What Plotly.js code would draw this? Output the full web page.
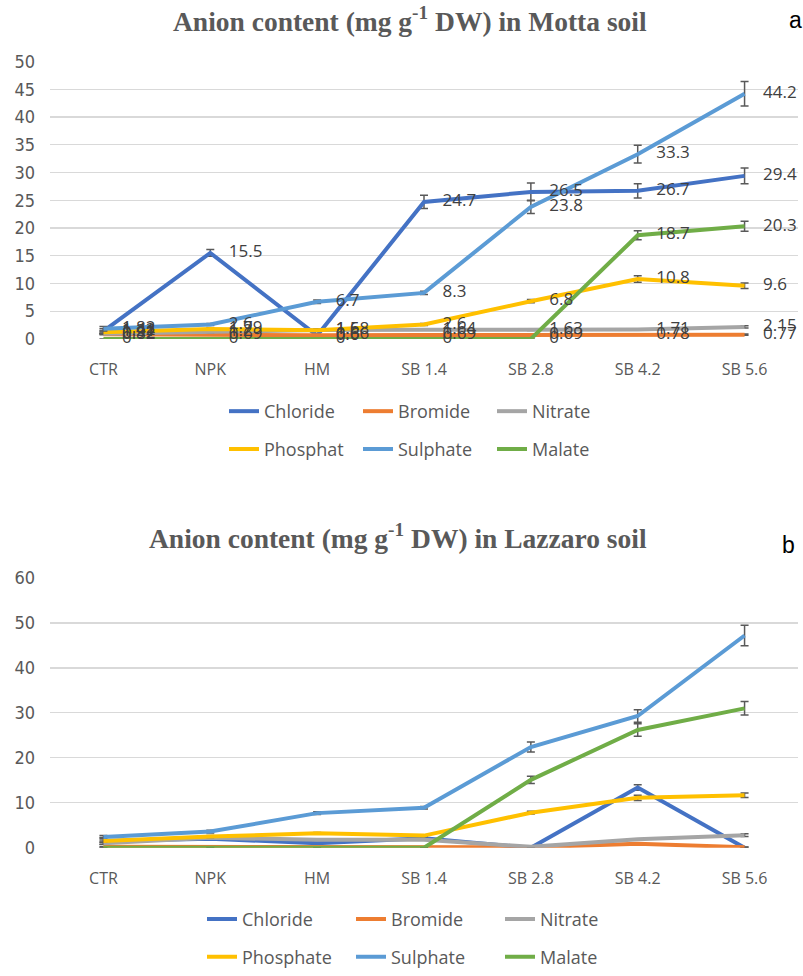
<!DOCTYPE html>
<html>
<head>
<meta charset="utf-8">
<script src="https://cdn.plot.ly/plotly-3.0.1.min.js"></script>
<style>
  html, body { margin: 0; padding: 0; background: #ffffff; }
  #chart { width: 803px; height: 976px; }
</style>
</head>
<body>
<div id="chart"></div>
<script>
// Treatments on the category axis
const treatments = ['CTR', 'NPK', 'HM', 'SB 1.4', 'SB 2.8', 'SB 4.2', 'SB 5.6'];

// Motta soil: anion content (mg g-1 DW) and standard errors
const mottaChloride  = [1.42, 15.5, 0.6, 24.7, 26.5, 26.7, 29.4];
const mottaBromide   = [0.82, 0.69, 0.66, 0.69, 0.69, 0.78, 0.77];
const mottaNitrate   = [0.92, 1.2, 1.6, 1.64, 1.63, 1.71, 2.15];
const mottaPhosphat  = [1.21, 1.79, 1.58, 2.6, 6.8, 10.8, 9.6];
const mottaSulphate  = [1.82, 2.6, 6.7, 8.3, 23.8, 33.3, 44.2];
const mottaMalate    = [0, 0, 0, 0, 0, 18.7, 20.3];

const mottaChlorideErr  = [0.4, 0.6, 0.2, 1.2, 1.6, 1.3, 1.4];
const mottaBromideErr   = [0.05, 0.05, 0.05, 0.05, 0.05, 0.1, 0.1];
const mottaNitrateErr   = [0.1, 0.1, 0.1, 0.1, 0.1, 0.1, 0.2];
const mottaPhosphatErr  = [0.2, 0.2, 0.2, 0.2, 0.3, 0.6, 0.5];
const mottaSulphateErr  = [0.4, 0.2, 0.3, 0.3, 1.2, 1.6, 2.2];
const mottaMalateErr    = [0, 0, 0, 0, 0, 0.8, 0.9];

// Lazzaro soil: anion content (mg g-1 DW) and standard errors
const lazzaroChloride  = [1.5, 2.0, 1.0, 2.1, 0, 13.4, 0];
const lazzaroBromide   = [0.2, 0.2, 0.2, 0.1, 0.1, 0.9, 0.1];
const lazzaroNitrate   = [1.0, 2.2, 1.8, 1.8, 0.2, 1.9, 2.8];
const lazzaroPhosphate = [1.5, 2.5, 3.2, 2.7, 7.8, 11.1, 11.7];
const lazzaroSulphate  = [2.4, 3.6, 7.7, 8.9, 22.4, 29.3, 47.2];
const lazzaroMalate    = [0, 0, 0, 0, 15.1, 26.2, 31.0];

const lazzaroChlorideErr  = [0.8, 0.2, 0.2, 0.2, 0.1, 0.6, 0.1];
const lazzaroBromideErr   = [0.05, 0.05, 0.05, 0.05, 0.05, 0.1, 0.05];
const lazzaroNitrateErr   = [0.2, 0.1, 0.1, 0.1, 0.1, 0.1, 0.3];
const lazzaroPhosphateErr = [0.2, 0.2, 0.2, 0.2, 0.3, 0.6, 0.5];
const lazzaroSulphateErr  = [0.3, 0.3, 0.3, 0.3, 1.1, 1.4, 2.3];
const lazzaroMalateErr    = [0, 0, 0, 0, 0.8, 1.4, 1.5];

const colors = {
  chloride: '#4472C4',
  bromide: '#ED7D31',
  nitrate: '#A5A5A5',
  phosphate: '#FFC000',
  sulphate: '#5B9BD5',
  malate: '#70AD47'
};

const labelFont = { family: 'Open Sans, Noto Sans, sans-serif', size: 17, color: '#404040' };

function errBar(arr) {
  return { type: 'data', array: arr, visible: true, color: '#595959', thickness: 1.5, width: 4 };
}

function lineTrace(name, values, errs, color, legendId, xa, ya) {
  return {
    type: 'scatter',
    mode: 'lines',
    name: name,
    x: treatments,
    y: values,
    line: { color: color, width: 4 },
    error_y: errBar(errs),
    xaxis: xa, yaxis: ya,
    legend: legendId
  };
}

// Value labels sit to the right of each Motta point; the invisible marker
// size sets the gap between point and label
function labelTrace(values) {
  return {
    type: 'scatter',
    mode: 'markers+text',
    x: treatments,
    y: values,
    text: values.map(v => String(v)),
    textposition: 'middle right',
    textfont: labelFont,
    cliponaxis: false,
    marker: { size: 28, color: 'rgba(0,0,0,0)' },
    showlegend: false,
    xaxis: 'x', yaxis: 'y'
  };
}

const mottaSeries = [
  ['Chloride', mottaChloride, mottaChlorideErr, colors.chloride, 'legend'],
  ['Bromide', mottaBromide, mottaBromideErr, colors.bromide, 'legend'],
  ['Nitrate', mottaNitrate, mottaNitrateErr, colors.nitrate, 'legend'],
  ['Phosphat', mottaPhosphat, mottaPhosphatErr, colors.phosphate, 'legend2'],
  ['Sulphate', mottaSulphate, mottaSulphateErr, colors.sulphate, 'legend2'],
  ['Malate', mottaMalate, mottaMalateErr, colors.malate, 'legend2']
];

const lazzaroSeries = [
  ['Chloride', lazzaroChloride, lazzaroChlorideErr, colors.chloride, 'legend3'],
  ['Bromide', lazzaroBromide, lazzaroBromideErr, colors.bromide, 'legend3'],
  ['Nitrate', lazzaroNitrate, lazzaroNitrateErr, colors.nitrate, 'legend3'],
  ['Phosphate', lazzaroPhosphate, lazzaroPhosphateErr, colors.phosphate, 'legend4'],
  ['Sulphate', lazzaroSulphate, lazzaroSulphateErr, colors.sulphate, 'legend4'],
  ['Malate', lazzaroMalate, lazzaroMalateErr, colors.malate, 'legend4']
];

const data = [];
mottaSeries.forEach(s => data.push(lineTrace(s[0], s[1], s[2], s[3], s[4], 'x', 'y')));
mottaSeries.forEach(s => data.push(labelTrace(s[1])));
lazzaroSeries.forEach(s => data.push(lineTrace(s[0], s[1], s[2], s[3], s[4], 'x2', 'y2')));

const W = 803, H = 976;
const px = v => v / W;
const py = v => (H - v) / H;

const tickFontX = { family: 'Open Sans, Noto Sans, sans-serif', size: 16, color: '#595959' };
const tickFontY = { family: 'Liberation Sans Narrow, DejaVu Sans Condensed, Open Sans, sans-serif', size: 18, color: '#595959' };

function xAxis() {
  return {
    type: 'category',
    domain: [px(50), px(798)],
    range: [-0.5, 6.5],
    showgrid: false,
    zeroline: false,
    showline: false,
    ticks: '',
    tickfont: tickFontX,
    ticklabelstandoff: 19,
    fixedrange: true
  };
}

function yAxis(domain, max, dtick) {
  return {
    domain: domain,
    range: [0, max],
    dtick: dtick,
    tick0: 0,
    showgrid: true,
    gridcolor: '#d9d9d9',
    gridwidth: 1.3,
    zeroline: false,
    showline: false,
    ticks: '',
    tickfont: tickFontY,
    ticklabelstandoff: 14,
    fixedrange: true
  };
}

const legendBase = {
  orientation: 'h',
  entrywidthmode: 'pixels',
  font: { family: 'Open Sans, Noto Sans, sans-serif', size: 18, color: '#595959' },
  bgcolor: 'rgba(0,0,0,0)',
  xref: 'paper', yref: 'paper',
  xanchor: 'left', yanchor: 'middle',
  traceorder: 'normal'
};

const titleFont = { family: 'Liberation Serif, Times New Roman, serif', size: 27.5, color: '#595959', weight: 'bold' };

const layout = {
  width: W,
  height: H,
  margin: { l: 0, r: 0, t: 0, b: 0 },
  paper_bgcolor: '#ffffff',
  plot_bgcolor: '#ffffff',
  hovermode: false,
  showlegend: true,
  xaxis: Object.assign(xAxis(), { anchor: 'y' }),
  yaxis: Object.assign(yAxis([py(341), py(62)], 50, 5), { anchor: 'x' }),
  xaxis2: Object.assign(xAxis(), { anchor: 'y2' }),
  yaxis2: Object.assign(yAxis([py(853), py(581.5)], 60, 10), { anchor: 'x2' }),
  legend: Object.assign({}, legendBase, { x: px(224), y: py(414), entrywidth: 89 }),
  legend2: Object.assign({}, legendBase, { x: px(224), y: py(452), entrywidth: 89 }),
  legend3: Object.assign({}, legendBase, { x: px(202), y: py(925), entrywidth: 104 }),
  legend4: Object.assign({}, legendBase, { x: px(202), y: py(963), entrywidth: 104 }),
  annotations: [
    {
      text: '<b>Anion content (mg g<sup>-1</sup> DW) in Motta soil</b>',
      xref: 'paper', yref: 'paper', x: px(410), y: py(20),
      xanchor: 'center', yanchor: 'middle', showarrow: false,
      font: titleFont
    },
    {
      text: '<b>Anion content (mg g<sup>-1</sup> DW) in Lazzaro soil</b>',
      xref: 'paper', yref: 'paper', x: px(398), y: py(540),
      xanchor: 'center', yanchor: 'middle', showarrow: false,
      font: titleFont
    },
    {
      text: 'a',
      xref: 'paper', yref: 'paper', x: px(804), y: py(20),
      xanchor: 'right', yanchor: 'middle', showarrow: false,
      font: { family: 'Liberation Sans, Arial, sans-serif', size: 23, color: '#000000' }
    },
    {
      text: 'b',
      xref: 'paper', yref: 'paper', x: px(797), y: py(548),
      xanchor: 'right', yanchor: 'middle', showarrow: false,
      font: { family: 'Liberation Sans, Arial, sans-serif', size: 23, color: '#000000' }
    }
  ]
};

Plotly.newPlot('chart', data, layout, { staticPlot: true, displayModeBar: false });
</script>
</body>
</html>
